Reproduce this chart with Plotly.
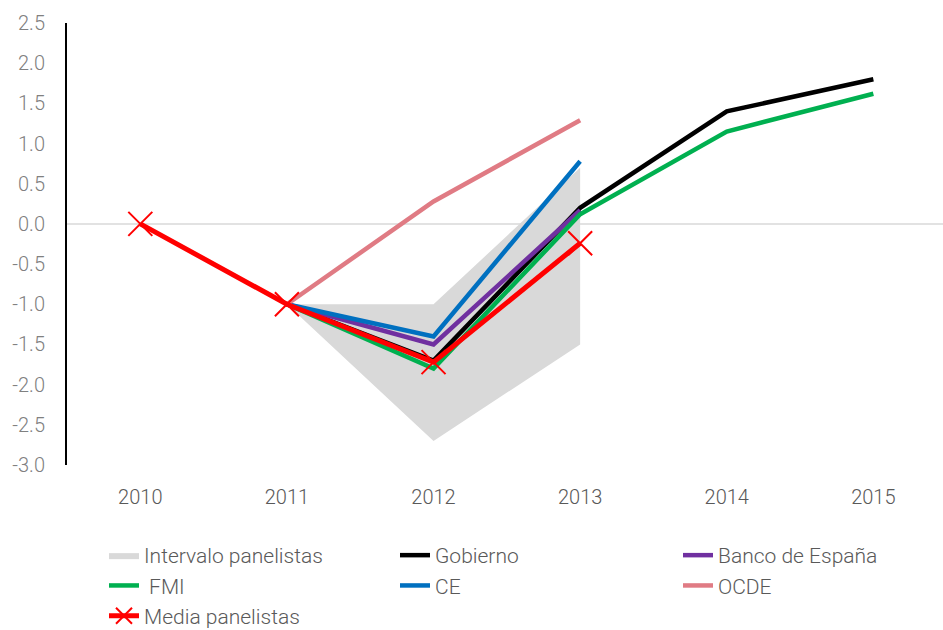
"""Previsiones de crecimiento del PIB: panelistas vs. organismos."""

import plotly.graph_objects as go

# ── Data ───────────────────────────────────────────────────────────────────
YEARS = [2010, 2011, 2012, 2013, 2014, 2015]

RANGE_YEARS = [2011, 2012, 2013]
RANGE_UPPER = [-1.0, -1.0, 0.7]
RANGE_LOWER = [-1.0, -2.7, -1.5]

GOBIERNO = [None, -1.0, -1.7, 0.2, 1.4, 1.8]
BANCO_ESPANA = [None, -1.0, -1.5, 0.17, None, None]
FMI = [None, -1.0, -1.8, 0.12, 1.15, 1.62]
CE = [None, -1.0, -1.4, 0.78, None, None]
OCDE = [None, -1.0, 0.28, 1.29, None, None]
MEDIA = [0.0, -1.0, -1.72, -0.24, None, None]

Y_TICKS = [-3.0, -2.5, -2.0, -1.5, -1.0, -0.5, 0.0, 0.5, 1.0, 1.5, 2.0, 2.5]

# ── Style ──────────────────────────────────────────────────────────────────
FONT = "Roboto, sans-serif"
TEXT_GREY = "#595959"
LINE_W = 4.5

fig = go.Figure()

fig.add_trace(
    go.Scatter(
        x=RANGE_YEARS + RANGE_YEARS[::-1],
        y=RANGE_UPPER + RANGE_LOWER[::-1],
        fill="toself",
        fillcolor="#D9D9D9",
        line={"width": 0, "color": "#D9D9D9"},
        mode="lines",
        name="Intervalo panelistas",
        legend="legend",
    )
)

# (name, values, colour, legend column)
series = [
    ("Gobierno", GOBIERNO, "#000000", "legend2"),
    ("Banco de España", BANCO_ESPANA, "#7030A0", "legend3"),
    (" FMI", FMI, "#00B050", "legend"),
    ("CE", CE, "#0070C0", "legend2"),
    ("OCDE", OCDE, "#E07B84", "legend3"),
]
for name, values, color, leg in series:
    fig.add_trace(
        go.Scatter(
            x=YEARS,
            y=values,
            mode="lines",
            name=name,
            line={"color": color, "width": LINE_W},
            legend=leg,
        )
    )

fig.add_trace(
    go.Scatter(
        x=YEARS,
        y=MEDIA,
        mode="lines+markers",
        name="Media panelistas",
        line={"color": "#FF0000", "width": 5},
        marker={
            "symbol": "x-thin",
            "size": 24,
            "color": "#FF0000",
            "line": {"color": "#FF0000", "width": 2},
        },
        legend="legend",
    )
)

fig.add_shape(
    type="line",
    xref="paper",
    yref="y",
    x0=0,
    x1=1,
    y0=0,
    y1=0,
    line={"color": "#D9D9D9", "width": 1.5},
    layer="below",
)


def _legend(x_px: float) -> dict:
    """One vertical legend column, placed in pixels."""
    return {
        "orientation": "v",
        "xref": "container",
        "yref": "container",
        "x": x_px / 943,
        "y": 1 - 535 / 630,
        "xanchor": "left",
        "yanchor": "top",
        "traceorder": "normal",
        "font": {"size": 21, "color": TEXT_GREY, "weight": 300},
        "bgcolor": "rgba(0,0,0,0)",
    }


fig.update_layout(
    width=943,
    height=630,
    plot_bgcolor="white",
    paper_bgcolor="white",
    font={"family": FONT, "color": TEXT_GREY, "size": 19, "weight": 300},
    margin={"l": 67, "r": 0, "t": 23, "b": 165, "autoexpand": False},
    xaxis={
        "range": [2009.5, 2015.475],
        "tickvals": YEARS,
        "ticktext": [str(y) for y in YEARS],
        "showgrid": False,
        "zeroline": False,
        "showline": False,
        "ticks": "",
        "ticklabelstandoff": 18,
        "tickangle": 0,
        "automargin": False,
        "tickfont": {"size": 20, "color": TEXT_GREY, "weight": 300},
    },
    yaxis={
        "range": [-3.0, 2.5],
        "tickvals": Y_TICKS,
        # plain hyphen for negatives, as in the original
        "ticktext": [f"{v:.1f}" for v in Y_TICKS],
        "showgrid": False,
        "zeroline": False,
        "showline": True,
        "linecolor": "black",
        "linewidth": 2,
        "ticks": "",
        "ticklabelstandoff": 16,
        "automargin": False,
        "tickfont": {"size": 20, "color": "#808080", "weight": 300},
    },
    legend=_legend(104),
    legend2=_legend(395),
    legend3=_legend(678),
    showlegend=True,
)

fig.write_html(
    "out.html",
    config={"displayModeBar": False},
    post_script="document.body.style.margin = '0';",
)
